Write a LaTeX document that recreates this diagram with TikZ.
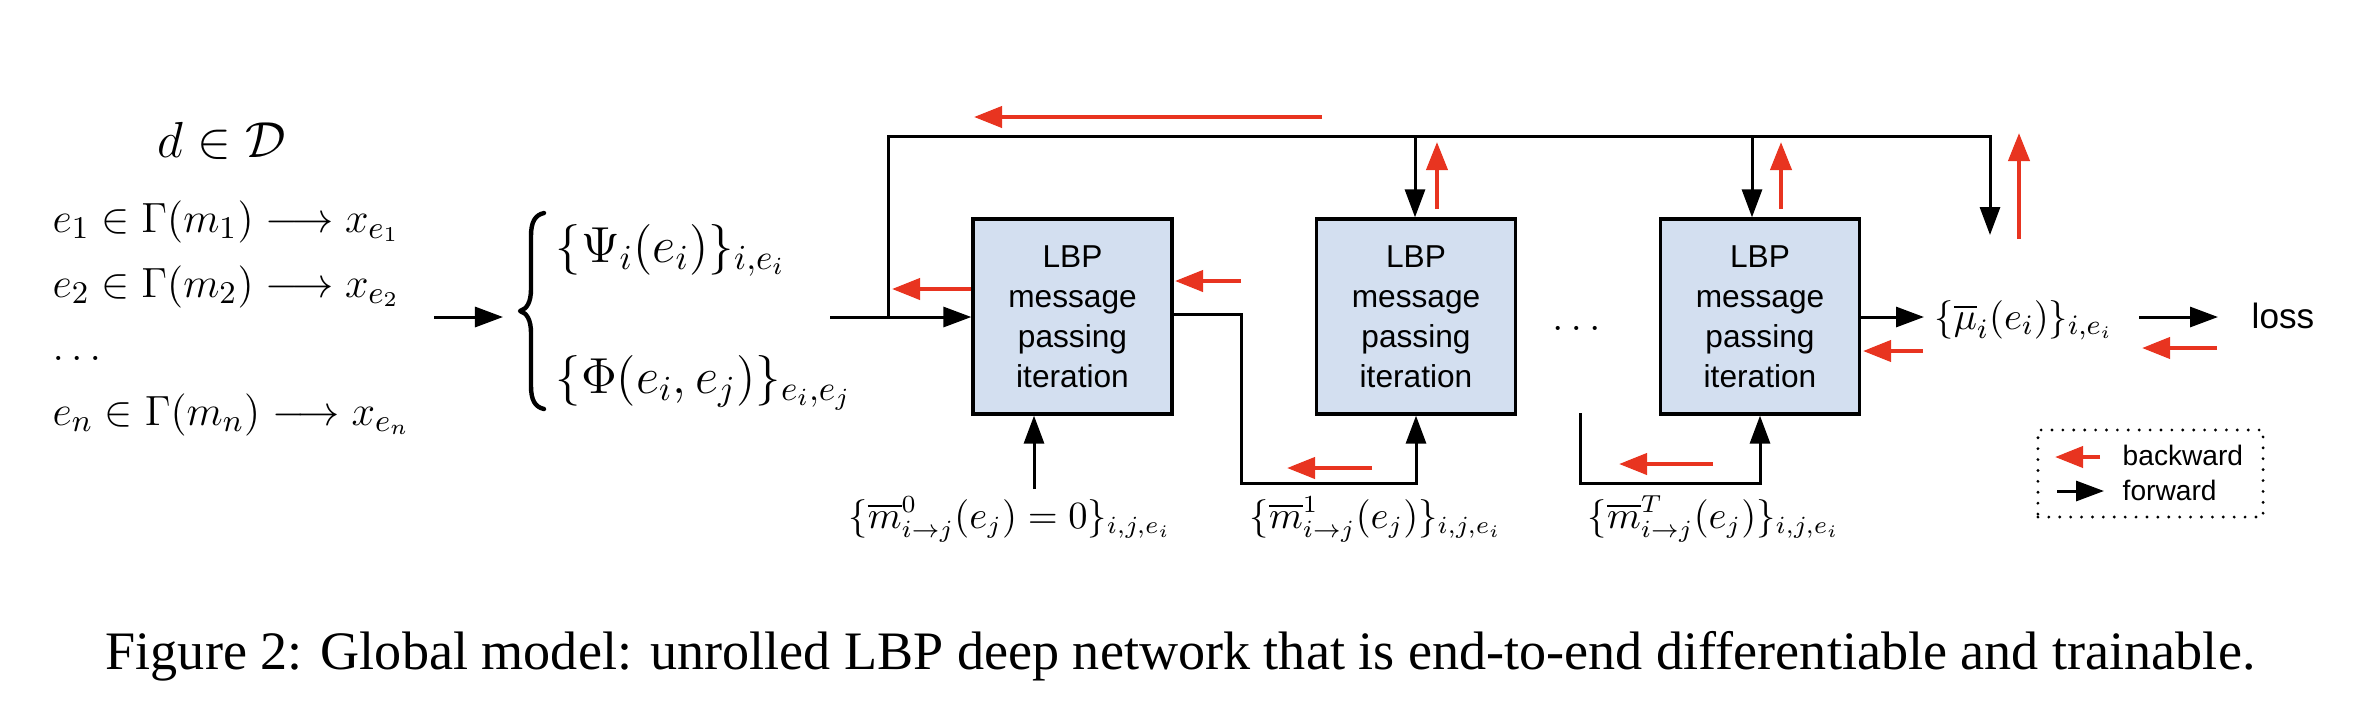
\documentclass[tikz,border=0pt]{standalone}
\usepackage{fontspec}
\usepackage{amsmath}
\newfontfamily\sansfam{Liberation Sans}
\newfontfamily\seriffam{Liberation Serif}
\usetikzlibrary{arrows.meta,calc}
\definecolor{myred}{RGB}{232,52,32}
\definecolor{boxblue}{RGB}{211,223,240}
\newcommand\mytitlemath{\fontsize{15.5}{18}\selectfont}
\newcommand\mybigmath{\fontsize{13}{15}\selectfont}
\newcommand\mybracemath{\fontsize{14.8}{17}\selectfont}
\newcommand\mysmmath{\fontsize{10.5}{12.5}\selectfont}
\newcommand\myboxfont{\sansfam\fontsize{9}{11.4}\selectfont}
\newcommand\mylossfont{\sansfam\fontsize{10}{12}\selectfont}
\newcommand\mylegfont{\sansfam\fontsize{8}{10}\selectfont}
\newcommand\mycapfont{\seriffam\fontsize{15.4}{18}\selectfont}
\tikzset{
  ln/.style={line width=0.85pt},
  fwd/.style={line width=0.85pt, -{Triangle[length=0.28cm,width=0.2cm]}},
  bwd/.style={draw=myred, line width=1.15pt, -{Triangle[length=0.28cm,width=0.21cm]}},
  lbpbox/.style={draw, line width=0.9pt, fill=boxblue, minimum width=1.99cm, minimum height=1.95cm,
    align=center, inner sep=0pt, font=\myboxfont},
  txt/.style={inner sep=0pt},
  bracestroke/.style={line width=1.25pt, line cap=round, line join=round},
}
\begin{document}
\begin{tikzpicture}[x=0.01cm,y=-0.01cm]
\useasboundingbox (0,0) rectangle (2378,720);

% left text
\node[txt, anchor=base] (d) at (222,157) {\mytitlemath $d\in\mathcal{D}$};
\node[txt, anchor=base west] (e1) at (52,232) {\mybigmath $e_1\in\Gamma(m_1)\longrightarrow x_{e_1}$};
\node[txt, anchor=base west] (e2) at (52,297) {\mybigmath $e_2\in\Gamma(m_2)\longrightarrow x_{e_2}$};
\node[txt, anchor=base west] (edots) at (52,360) {\mybigmath $\dots$};
\node[txt, anchor=base west] (en) at (52,425) {\mybigmath $e_n\in\Gamma(m_n)\longrightarrow x_{e_n}$};

% brace
\coordinate (a0) at (434,317);
\coordinate (bracetip) at (503,317);
\draw[bracestroke] (544,213) .. controls (535,215) and (531,222) .. (531,236) -- (531,289)
  .. controls (531,302) and (527,309) .. (520,311)
  .. controls (527,313) and (531,320) .. (531,333) -- (531,386)
  .. controls (531,400) and (535,407) .. (544,409);
\draw[fwd] (a0) -- (bracetip);

\node[txt, anchor=base west] (psi) at (555,262) {\mybracemath $\{\Psi_i(e_i)\}_{i,e_i}$};
\node[txt, anchor=base west] (phi) at (555,393) {\mybracemath $\{\Phi(e_i,e_j)\}_{e_i,e_j}$};

% boxes
\node[lbpbox] (b1) at (1072.5,316.5) {LBP\\message\\passing\\iteration};
\node[lbpbox] (b2) at (1416,316.5) {LBP\\message\\passing\\iteration};
\node[lbpbox] (b3) at (1760,316.5) {LBP\\message\\passing\\iteration};

\node[txt, anchor=base] (dots) at (1580,330) {\mybigmath $\dots$};

% bottom labels
\node[txt, anchor=base] (m0) at (1010,528) {\mysmmath $\{\overline{m}^0_{i\to j}(e_j)=0\}_{i,j,e_i}$};
\node[txt, anchor=base] (m1) at (1376,528) {\mysmmath $\{\overline{m}^1_{i\to j}(e_j)\}_{i,j,e_i}$};
\node[txt, anchor=base] (mT) at (1714,528) {\mysmmath $\{\overline{m}^T_{i\to j}(e_j)\}_{i,j,e_i}$};

% output
\node[txt, anchor=base west] (mu) at (1934,329) {\fontsize{11}{13}\selectfont $\{\overline{\mu}_i(e_i)\}_{i,e_i}$};
\node[txt, anchor=base west, font=\mylossfont] (loss) at (2251,328) {loss};

% forward connectors
\coordinate (in0) at (830,317);
\coordinate (j0) at (888,317);
\coordinate (t0) at (888,136);
\coordinate (t2) at (1415,136);
\coordinate (t3) at (1752,136);
\coordinate (tE) at (1990,136);
\coordinate (tEnd) at (1990,235);
\draw[fwd] (in0) -- (j0) -- (b1.west |- j0);
\draw[fwd] (j0) -- (t0) -- (tE) -- (tEnd);
\draw[fwd] (t2) -- (t2 |- b2.north);
\draw[fwd] (t3) -- (t3 |- b3.north);

\coordinate (o1) at (1241,314);
\coordinate (o1b) at (1241,483);
\draw[fwd] (b1.east |- o1) -- (o1) -- (o1b) -- (b2.south |- o1b) -- (b2.south);
\coordinate (s3) at (1580,413);
\coordinate (s3b) at (1580,483);
\draw[fwd] (s3) -- (s3b) -- (b3.south |- s3b) -- (b3.south);
\coordinate (m0top) at (1034,489);
\draw[fwd] (m0top) -- (m0top |- b1.south);

\coordinate (muin) at (1924,317);
\draw[fwd] (b3.east |- muin) -- (muin);
\coordinate (lossA) at (2139,317);
\coordinate (lossB) at (2218,317);
\draw[fwd] (lossA) -- (lossB);

% backward arrows
\coordinate (r1a) at (1322,117); \coordinate (r1b) at (974,117);
\draw[bwd] (r1a) -- (r1b);
\coordinate (r2b) at (892,289);
\draw[bwd] (b1.west |- r2b) -- (r2b);
\coordinate (r3a) at (1241,281); \coordinate (r3b) at (1175,281);
\draw[bwd] (r3a) -- (r3b);
\coordinate (r4a) at (1437,209); \coordinate (r4b) at (1437,142);
\draw[bwd] (r4a) -- (r4b);
\coordinate (r5a) at (1781,209); \coordinate (r5b) at (1781,142);
\draw[bwd] (r5a) -- (r5b);
\coordinate (r6a) at (2019,239); \coordinate (r6b) at (2019,133);
\draw[bwd] (r6a) -- (r6b);
\coordinate (r7a) at (1372,468); \coordinate (r7b) at (1287,468);
\draw[bwd] (r7a) -- (r7b);
\coordinate (r8a) at (1713,464); \coordinate (r8b) at (1619,464);
\draw[bwd] (r8a) -- (r8b);
\coordinate (r9a) at (1923,351); \coordinate (r9b) at (1863,351);
\draw[bwd] (r9a) -- (r9b);
\coordinate (r10a) at (2217,348); \coordinate (r10b) at (2142,348);
\draw[bwd] (r10a) -- (r10b);

% legend
\node[draw, line width=0.9pt, dash pattern=on 0pt off 3.1pt, line cap=round, minimum width=2.25cm, minimum height=0.87cm, inner sep=0pt] (leg) at (2150.5,473.5) {};
\coordinate (lg1a) at (2100,457); \coordinate (lg1b) at (2055,457);
\draw[bwd] (lg1a) -- (lg1b);
\coordinate (lg2a) at (2057,491); \coordinate (lg2b) at (2104,491);
\draw[fwd] (lg2a) -- (lg2b);
\node[txt, anchor=base west, font=\mylegfont] (lb) at (2122,465) {backward};
\node[txt, anchor=base west, font=\mylegfont] (lf) at (2122,500) {forward};

% caption
\node[txt, anchor=base west, font=\mycapfont] (cap) at (105,669) {Figure 2: Global model: unrolled LBP deep network that is end-to-end differentiable and trainable.};
\end{tikzpicture}
\end{document}
